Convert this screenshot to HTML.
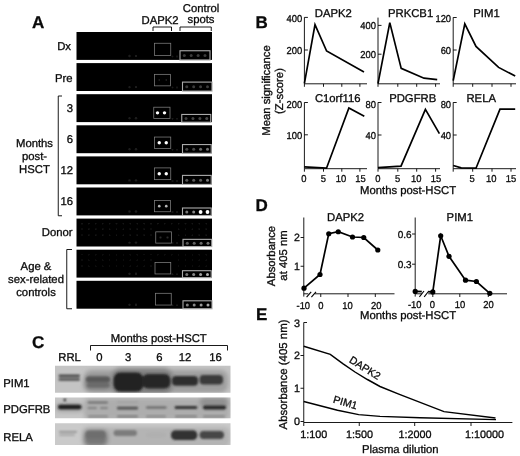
<!DOCTYPE html>
<html><head><meta charset="utf-8"><title>Figure</title>
<style>
html,body{margin:0;padding:0;background:#fff;}
body{width:520px;height:456px;overflow:hidden;}
svg{display:block;font-family:"Liberation Sans",Arial,sans-serif;fill:#0a0a0a;}
text{stroke:#0a0a0a;stroke-width:0.3px;text-rendering:geometricPrecision;}
</style></head><body>
<svg width="520" height="456" viewBox="0 0 520 456">
<defs>
<filter id="b1" x="-50%" y="-50%" width="200%" height="200%"><feGaussianBlur stdDeviation="0.5"/></filter>
<filter id="b2" x="-50%" y="-50%" width="200%" height="200%"><feGaussianBlur stdDeviation="1.2"/></filter>
<filter id="b3" x="-50%" y="-50%" width="200%" height="200%"><feGaussianBlur stdDeviation="2"/></filter>
<filter id="b15" x="-50%" y="-50%" width="200%" height="200%"><feGaussianBlur stdDeviation="0.8"/></filter>
<filter id="b0" x="-50%" y="-50%" width="200%" height="200%"><feGaussianBlur stdDeviation="0.35"/></filter>
<clipPath id="c1"><rect x="55" y="365.75" width="175.5" height="27"/></clipPath>
<clipPath id="c2"><rect x="55" y="397.5" width="175.5" height="20.75"/></clipPath>
<clipPath id="c3"><rect x="55" y="423.25" width="175.5" height="21.75"/></clipPath>
</defs>
<rect width="520" height="456" fill="#fff"/>

<g id="panelA">
<text x="32" y="27.5" text-anchor="start" font-size="17" font-weight="bold" >A</text>
<text x="141.5" y="23.75" text-anchor="start" font-size="11.3" font-weight="normal" >DAPK2</text>
<text x="201" y="12" text-anchor="middle" font-size="11.3" font-weight="normal" >Control</text>
<text x="201" y="22.5" text-anchor="middle" font-size="11.3" font-weight="normal" >spots</text>
<polyline points="153.00,31.00 153.00,27.00 171.50,27.00 171.50,31.00" fill="none" stroke="#000" stroke-width="0.9" stroke-linejoin="miter" />
<polyline points="180.00,31.00 180.00,27.00 211.25,27.00 211.25,31.00" fill="none" stroke="#000" stroke-width="0.9" stroke-linejoin="miter" />
<rect x="76.5" y="32.0" width="135.5" height="27.9" fill="#000"/>
<g filter="url(#b1)">
<circle cx="129.5" cy="56.0" r="1.2" fill="#1d1d1d"/>
<circle cx="136" cy="56.0" r="1.2" fill="#1d1d1d"/>
<circle cx="172.5" cy="56.5" r="1.0" fill="#1a1a1a"/>
<circle cx="177" cy="56.5" r="1.0" fill="#1a1a1a"/>
<rect x="154.5" y="43.25" width="16.25" height="12.25" fill="none" stroke="#808080" stroke-width="0.75"/>
<rect x="180" y="50.75" width="30" height="9.249999999999998" fill="none" stroke="#aaaaaa" stroke-width="1.1"/>
<circle cx="184.30" cy="55.62" r="1.5" fill="#3a3a3a"/>
<circle cx="191.20" cy="55.62" r="1.5" fill="#3a3a3a"/>
<circle cx="198.10" cy="55.62" r="1.5" fill="#3a3a3a"/>
<circle cx="205.00" cy="55.62" r="1.5" fill="#3a3a3a"/>
</g>
<rect x="76.5" y="63.1" width="135.5" height="27.9" fill="#000"/>
<g filter="url(#b1)">
<circle cx="129.5" cy="87.1" r="1.2" fill="#1d1d1d"/>
<circle cx="136" cy="87.1" r="1.2" fill="#1d1d1d"/>
<circle cx="172.5" cy="87.6" r="1.0" fill="#1a1a1a"/>
<circle cx="177" cy="87.6" r="1.0" fill="#1a1a1a"/>
<rect x="154.5" y="74.35" width="16.0" height="11.5" fill="none" stroke="#808080" stroke-width="0.75"/>
<rect x="182.5" y="82.1" width="29.5" height="8.999999999999998" fill="none" stroke="#aaaaaa" stroke-width="1.1"/>
<circle cx="159.25" cy="80.1" r="1.0" fill="#1c1c1c"/>
<circle cx="166.25" cy="80.1" r="1.0" fill="#1c1c1c"/>
<circle cx="186.80" cy="86.85" r="1.5" fill="#3a3a3a"/>
<circle cx="193.70" cy="86.85" r="1.5" fill="#3a3a3a"/>
<circle cx="200.60" cy="86.85" r="1.5" fill="#3a3a3a"/>
<circle cx="207.50" cy="86.85" r="1.5" fill="#3a3a3a"/>
</g>
<rect x="76.5" y="94.2" width="135.5" height="27.9" fill="#000"/>
<g filter="url(#b1)">
<circle cx="129.5" cy="118.2" r="1.2" fill="#1d1d1d"/>
<circle cx="136" cy="118.2" r="1.2" fill="#1d1d1d"/>
<circle cx="172.5" cy="118.7" r="1.0" fill="#1a1a1a"/>
<circle cx="177" cy="118.7" r="1.0" fill="#1a1a1a"/>
<rect x="153.75" y="107.2" width="16.25" height="11.25" fill="none" stroke="#808080" stroke-width="0.75"/>
<rect x="181.75" y="114.45" width="29.0" height="7.749999999999998" fill="none" stroke="#aaaaaa" stroke-width="1.1"/>
<circle cx="157.5" cy="112.825" r="1.7" fill="#fff"/>
<circle cx="164.5" cy="112.825" r="1.7" fill="#fff"/>
<circle cx="186.05" cy="118.58" r="1.5" fill="#3c3c3c"/>
<circle cx="192.95" cy="118.58" r="1.5" fill="#444"/>
<circle cx="199.85" cy="118.58" r="1.5" fill="#444"/>
<circle cx="206.75" cy="118.58" r="1.5" fill="#4a4a4a"/>
</g>
<rect x="76.5" y="125.30000000000001" width="135.5" height="27.9" fill="#000"/>
<g filter="url(#b1)">
<circle cx="129.5" cy="149.3" r="1.2" fill="#1d1d1d"/>
<circle cx="136" cy="149.3" r="1.2" fill="#1d1d1d"/>
<circle cx="172.5" cy="149.8" r="1.0" fill="#1a1a1a"/>
<circle cx="177" cy="149.8" r="1.0" fill="#1a1a1a"/>
<rect x="154.5" y="137.05" width="16.25" height="11.5" fill="none" stroke="#808080" stroke-width="0.75"/>
<rect x="182.5" y="144.55" width="28.75" height="8.749999999999998" fill="none" stroke="#aaaaaa" stroke-width="1.1"/>
<circle cx="159.25" cy="142.8" r="1.7" fill="#fff"/>
<circle cx="166.25" cy="142.8" r="1.7" fill="#fff"/>
<circle cx="186.80" cy="149.18" r="1.5" fill="#444"/>
<circle cx="193.70" cy="149.18" r="1.5" fill="#4a4a4a"/>
<circle cx="200.60" cy="149.18" r="1.5" fill="#6a6a6a"/>
<circle cx="207.50" cy="149.18" r="1.5" fill="#707070"/>
</g>
<rect x="76.5" y="156.4" width="135.5" height="27.9" fill="#000"/>
<g filter="url(#b1)">
<circle cx="129.5" cy="180.4" r="1.2" fill="#1d1d1d"/>
<circle cx="136" cy="180.4" r="1.2" fill="#1d1d1d"/>
<circle cx="172.5" cy="180.9" r="1.0" fill="#1a1a1a"/>
<circle cx="177" cy="180.9" r="1.0" fill="#1a1a1a"/>
<rect x="154.5" y="167.9" width="16.25" height="11.75" fill="none" stroke="#808080" stroke-width="0.75"/>
<rect x="182.5" y="175.4" width="28.75" height="8.999999999999998" fill="none" stroke="#aaaaaa" stroke-width="1.1"/>
<circle cx="159.25" cy="173.775" r="1.7" fill="#fff"/>
<circle cx="166.25" cy="173.775" r="1.7" fill="#fff"/>
<circle cx="186.80" cy="180.15" r="1.5" fill="#555"/>
<circle cx="193.70" cy="180.15" r="1.5" fill="#5a5a5a"/>
<circle cx="200.60" cy="180.15" r="1.5" fill="#5a5a5a"/>
<circle cx="207.50" cy="180.15" r="1.5" fill="#777"/>
</g>
<rect x="76.5" y="187.5" width="135.5" height="27.9" fill="#000"/>
<g filter="url(#b1)">
<circle cx="129.5" cy="211.5" r="1.2" fill="#1d1d1d"/>
<circle cx="136" cy="211.5" r="1.2" fill="#1d1d1d"/>
<circle cx="172.5" cy="212.0" r="1.0" fill="#1a1a1a"/>
<circle cx="177" cy="212.0" r="1.0" fill="#1a1a1a"/>
<rect x="154.5" y="200.5" width="16.0" height="11.25" fill="none" stroke="#808080" stroke-width="0.75"/>
<rect x="182.5" y="208.0" width="28.75" height="7.499999999999998" fill="none" stroke="#aaaaaa" stroke-width="1.1"/>
<circle cx="159.25" cy="206.125" r="1.3" fill="#b8b8b8"/>
<circle cx="166.25" cy="206.125" r="1.3" fill="#b8b8b8"/>
<circle cx="186.80" cy="212.00" r="1.5" fill="#777"/>
<circle cx="193.70" cy="212.00" r="1.5" fill="#888"/>
<circle cx="200.60" cy="212.00" r="1.9" fill="#fff"/>
<circle cx="207.50" cy="212.00" r="1.9" fill="#fff"/>
</g>
<rect x="76.5" y="218.60000000000002" width="135.5" height="27.9" fill="#000"/>
<g filter="url(#b1)">
<circle cx="82.0" cy="223.6" r="0.9" fill="#171717"/>
<circle cx="88.9" cy="223.6" r="0.9" fill="#171717"/>
<circle cx="95.8" cy="223.6" r="0.9" fill="#171717"/>
<circle cx="102.7" cy="223.6" r="0.9" fill="#171717"/>
<circle cx="109.6" cy="223.6" r="0.9" fill="#171717"/>
<circle cx="116.5" cy="223.6" r="0.9" fill="#171717"/>
<circle cx="123.4" cy="223.6" r="0.9" fill="#171717"/>
<circle cx="130.3" cy="223.6" r="0.9" fill="#171717"/>
<circle cx="137.2" cy="223.6" r="0.9" fill="#171717"/>
<circle cx="144.1" cy="223.6" r="0.9" fill="#171717"/>
<circle cx="151.0" cy="223.6" r="0.9" fill="#171717"/>
<circle cx="157.9" cy="223.6" r="0.9" fill="#171717"/>
<circle cx="164.8" cy="223.6" r="0.9" fill="#171717"/>
<circle cx="171.7" cy="223.6" r="0.9" fill="#171717"/>
<circle cx="178.6" cy="223.6" r="0.9" fill="#171717"/>
<circle cx="185.5" cy="223.6" r="0.9" fill="#171717"/>
<circle cx="192.4" cy="223.6" r="0.9" fill="#171717"/>
<circle cx="199.3" cy="223.6" r="0.9" fill="#171717"/>
<circle cx="206.2" cy="223.6" r="0.9" fill="#171717"/>
<circle cx="82.0" cy="229.1" r="0.9" fill="#171717"/>
<circle cx="88.9" cy="229.1" r="0.9" fill="#171717"/>
<circle cx="95.8" cy="229.1" r="0.9" fill="#171717"/>
<circle cx="102.7" cy="229.1" r="0.9" fill="#171717"/>
<circle cx="109.6" cy="229.1" r="0.9" fill="#171717"/>
<circle cx="116.5" cy="229.1" r="0.9" fill="#171717"/>
<circle cx="123.4" cy="229.1" r="0.9" fill="#171717"/>
<circle cx="130.3" cy="229.1" r="0.9" fill="#171717"/>
<circle cx="137.2" cy="229.1" r="0.9" fill="#171717"/>
<circle cx="144.1" cy="229.1" r="0.9" fill="#171717"/>
<circle cx="151.0" cy="229.1" r="0.9" fill="#171717"/>
<circle cx="178.6" cy="229.1" r="0.9" fill="#171717"/>
<circle cx="185.5" cy="229.1" r="0.9" fill="#171717"/>
<circle cx="192.4" cy="229.1" r="0.9" fill="#171717"/>
<circle cx="199.3" cy="229.1" r="0.9" fill="#171717"/>
<circle cx="206.2" cy="229.1" r="0.9" fill="#171717"/>
<circle cx="82.0" cy="235.1" r="0.9" fill="#171717"/>
<circle cx="88.9" cy="235.1" r="0.9" fill="#171717"/>
<circle cx="95.8" cy="235.1" r="0.9" fill="#171717"/>
<circle cx="102.7" cy="235.1" r="0.9" fill="#171717"/>
<circle cx="109.6" cy="235.1" r="0.9" fill="#171717"/>
<circle cx="116.5" cy="235.1" r="0.9" fill="#171717"/>
<circle cx="123.4" cy="235.1" r="0.9" fill="#171717"/>
<circle cx="130.3" cy="235.1" r="0.9" fill="#171717"/>
<circle cx="137.2" cy="235.1" r="0.9" fill="#171717"/>
<circle cx="144.1" cy="235.1" r="0.9" fill="#171717"/>
<circle cx="151.0" cy="235.1" r="0.9" fill="#171717"/>
<circle cx="178.6" cy="235.1" r="0.9" fill="#171717"/>
<circle cx="185.5" cy="235.1" r="0.9" fill="#171717"/>
<circle cx="192.4" cy="235.1" r="0.9" fill="#171717"/>
<circle cx="199.3" cy="235.1" r="0.9" fill="#171717"/>
<circle cx="206.2" cy="235.1" r="0.9" fill="#171717"/>
<circle cx="129.5" cy="242.60000000000002" r="1.2" fill="#1d1d1d"/>
<circle cx="136" cy="242.60000000000002" r="1.2" fill="#1d1d1d"/>
<circle cx="172.5" cy="243.10000000000002" r="1.0" fill="#1a1a1a"/>
<circle cx="177" cy="243.10000000000002" r="1.0" fill="#1a1a1a"/>
<rect x="155.75" y="231.85000000000002" width="15.75" height="11.25" fill="none" stroke="#808080" stroke-width="0.75"/>
<rect x="183" y="239.35000000000002" width="28.75" height="7.249999999999998" fill="none" stroke="#aaaaaa" stroke-width="1.1"/>
<circle cx="160.5" cy="237.47500000000002" r="1.1" fill="#2a2a2a"/>
<circle cx="167.5" cy="237.47500000000002" r="1.1" fill="#2a2a2a"/>
<circle cx="187.30" cy="243.23" r="1.5" fill="#555"/>
<circle cx="194.20" cy="243.23" r="1.5" fill="#606060"/>
<circle cx="201.10" cy="243.23" r="1.5" fill="#6a6a6a"/>
<circle cx="208.00" cy="243.23" r="1.5" fill="#707070"/>
</g>
<rect x="76.5" y="249.70000000000002" width="135.5" height="27.9" fill="#000"/>
<g filter="url(#b1)">
<circle cx="82.0" cy="254.7" r="0.9" fill="#101010"/>
<circle cx="88.9" cy="254.7" r="0.9" fill="#101010"/>
<circle cx="95.8" cy="254.7" r="0.9" fill="#101010"/>
<circle cx="102.7" cy="254.7" r="0.9" fill="#101010"/>
<circle cx="109.6" cy="254.7" r="0.9" fill="#101010"/>
<circle cx="116.5" cy="254.7" r="0.9" fill="#101010"/>
<circle cx="123.4" cy="254.7" r="0.9" fill="#101010"/>
<circle cx="130.3" cy="254.7" r="0.9" fill="#101010"/>
<circle cx="137.2" cy="254.7" r="0.9" fill="#101010"/>
<circle cx="144.1" cy="254.7" r="0.9" fill="#101010"/>
<circle cx="151.0" cy="254.7" r="0.9" fill="#101010"/>
<circle cx="157.9" cy="254.7" r="0.9" fill="#101010"/>
<circle cx="164.8" cy="254.7" r="0.9" fill="#101010"/>
<circle cx="171.7" cy="254.7" r="0.9" fill="#101010"/>
<circle cx="178.6" cy="254.7" r="0.9" fill="#101010"/>
<circle cx="185.5" cy="254.7" r="0.9" fill="#101010"/>
<circle cx="192.4" cy="254.7" r="0.9" fill="#101010"/>
<circle cx="199.3" cy="254.7" r="0.9" fill="#101010"/>
<circle cx="206.2" cy="254.7" r="0.9" fill="#101010"/>
<circle cx="82.0" cy="260.2" r="0.9" fill="#101010"/>
<circle cx="88.9" cy="260.2" r="0.9" fill="#101010"/>
<circle cx="95.8" cy="260.2" r="0.9" fill="#101010"/>
<circle cx="102.7" cy="260.2" r="0.9" fill="#101010"/>
<circle cx="109.6" cy="260.2" r="0.9" fill="#101010"/>
<circle cx="116.5" cy="260.2" r="0.9" fill="#101010"/>
<circle cx="123.4" cy="260.2" r="0.9" fill="#101010"/>
<circle cx="130.3" cy="260.2" r="0.9" fill="#101010"/>
<circle cx="137.2" cy="260.2" r="0.9" fill="#101010"/>
<circle cx="144.1" cy="260.2" r="0.9" fill="#101010"/>
<circle cx="151.0" cy="260.2" r="0.9" fill="#101010"/>
<circle cx="178.6" cy="260.2" r="0.9" fill="#101010"/>
<circle cx="185.5" cy="260.2" r="0.9" fill="#101010"/>
<circle cx="192.4" cy="260.2" r="0.9" fill="#101010"/>
<circle cx="199.3" cy="260.2" r="0.9" fill="#101010"/>
<circle cx="206.2" cy="260.2" r="0.9" fill="#101010"/>
<circle cx="82.0" cy="266.2" r="0.9" fill="#101010"/>
<circle cx="88.9" cy="266.2" r="0.9" fill="#101010"/>
<circle cx="95.8" cy="266.2" r="0.9" fill="#101010"/>
<circle cx="102.7" cy="266.2" r="0.9" fill="#101010"/>
<circle cx="109.6" cy="266.2" r="0.9" fill="#101010"/>
<circle cx="116.5" cy="266.2" r="0.9" fill="#101010"/>
<circle cx="123.4" cy="266.2" r="0.9" fill="#101010"/>
<circle cx="130.3" cy="266.2" r="0.9" fill="#101010"/>
<circle cx="137.2" cy="266.2" r="0.9" fill="#101010"/>
<circle cx="144.1" cy="266.2" r="0.9" fill="#101010"/>
<circle cx="151.0" cy="266.2" r="0.9" fill="#101010"/>
<circle cx="178.6" cy="266.2" r="0.9" fill="#101010"/>
<circle cx="185.5" cy="266.2" r="0.9" fill="#101010"/>
<circle cx="192.4" cy="266.2" r="0.9" fill="#101010"/>
<circle cx="199.3" cy="266.2" r="0.9" fill="#101010"/>
<circle cx="206.2" cy="266.2" r="0.9" fill="#101010"/>
<circle cx="129.5" cy="273.70000000000005" r="1.2" fill="#1d1d1d"/>
<circle cx="136" cy="273.70000000000005" r="1.2" fill="#1d1d1d"/>
<circle cx="172.5" cy="274.20000000000005" r="1.0" fill="#1a1a1a"/>
<circle cx="177" cy="274.20000000000005" r="1.0" fill="#1a1a1a"/>
<rect x="155" y="262.45000000000005" width="15.75" height="11.5" fill="none" stroke="#808080" stroke-width="0.75"/>
<rect x="182.5" y="270.70000000000005" width="28.75" height="6.999999999999998" fill="none" stroke="#aaaaaa" stroke-width="1.1"/>
<circle cx="186.80" cy="274.45" r="1.5" fill="#777"/>
<circle cx="193.70" cy="274.45" r="1.5" fill="#888"/>
<circle cx="200.60" cy="274.45" r="1.5" fill="#a0a0a0"/>
<circle cx="207.50" cy="274.45" r="1.5" fill="#b0b0b0"/>
</g>
<rect x="76.5" y="280.8" width="135.5" height="27.9" fill="#000"/>
<g filter="url(#b1)">
<circle cx="129.5" cy="304.8" r="1.2" fill="#1d1d1d"/>
<circle cx="136" cy="304.8" r="1.2" fill="#1d1d1d"/>
<circle cx="172.5" cy="305.3" r="1.0" fill="#1a1a1a"/>
<circle cx="177" cy="305.3" r="1.0" fill="#1a1a1a"/>
<rect x="155.5" y="293.3" width="15.75" height="11.75" fill="none" stroke="#808080" stroke-width="0.75"/>
<rect x="183" y="300.8" width="29" height="7.999999999999998" fill="none" stroke="#aaaaaa" stroke-width="1.1"/>
<circle cx="187.30" cy="305.05" r="1.5" fill="#808080"/>
<circle cx="194.20" cy="305.05" r="1.5" fill="#8a8a8a"/>
<circle cx="201.10" cy="305.05" r="1.5" fill="#9a9a9a"/>
<circle cx="208.00" cy="305.05" r="1.5" fill="#a8a8a8"/>
</g>
<text x="71" y="50" text-anchor="end" font-size="11.3" font-weight="normal" >Dx</text>
<text x="72.5" y="81.5" text-anchor="end" font-size="11.3" font-weight="normal" >Pre</text>
<text x="73" y="112" text-anchor="end" font-size="11.3" font-weight="normal" >3</text>
<text x="73" y="143" text-anchor="end" font-size="11.3" font-weight="normal" >6</text>
<text x="73" y="173.5" text-anchor="end" font-size="11.3" font-weight="normal" >12</text>
<text x="73" y="205" text-anchor="end" font-size="11.3" font-weight="normal" >16</text>
<text x="34.5" y="147" text-anchor="middle" font-size="11.3" font-weight="normal" >Months</text>
<text x="34.5" y="159.75" text-anchor="middle" font-size="11.3" font-weight="normal" >post-</text>
<text x="34.5" y="172.5" text-anchor="middle" font-size="11.3" font-weight="normal" >HSCT</text>
<polyline points="62.00,96.00 58.25,96.00 58.25,215.75 62.00,215.75" fill="none" stroke="#000" stroke-width="0.9" stroke-linejoin="miter" />
<text x="72.5" y="236" text-anchor="end" font-size="11.3" font-weight="normal" >Donor</text>
<text x="36" y="270" text-anchor="middle" font-size="11.3" font-weight="normal" >Age &amp;</text>
<text x="36" y="283" text-anchor="middle" font-size="11.3" font-weight="normal" >sex-related</text>
<text x="36" y="295.75" text-anchor="middle" font-size="11.3" font-weight="normal" >controls</text>
<polyline points="72.00,249.50 66.75,249.50 66.75,308.75 72.00,308.75" fill="none" stroke="#000" stroke-width="0.9" stroke-linejoin="miter" />
</g>
<g id="panelC">
<text x="32" y="347.5" text-anchor="start" font-size="17" font-weight="bold" >C</text>
<text x="158.75" y="342" text-anchor="middle" font-size="11.3" font-weight="normal" >Months post-HSCT</text>
<polyline points="90.50,350.50 90.50,345.50 227.50,345.50 227.50,350.50" fill="none" stroke="#000" stroke-width="0.9" stroke-linejoin="miter" />
<text x="69.6" y="361.25" text-anchor="middle" font-size="11.3" font-weight="normal" >RRL</text>
<text x="99.5" y="361.25" text-anchor="middle" font-size="11.3" font-weight="normal" >0</text>
<text x="128.25" y="361.25" text-anchor="middle" font-size="11.3" font-weight="normal" >3</text>
<text x="159.5" y="361.25" text-anchor="middle" font-size="11.3" font-weight="normal" >6</text>
<text x="185" y="361.25" text-anchor="middle" font-size="11.3" font-weight="normal" >12</text>
<text x="215.5" y="361.25" text-anchor="middle" font-size="11.3" font-weight="normal" >16</text>
<text x="3.25" y="386.5" text-anchor="start" font-size="11.3" font-weight="normal" >PIM1</text>
<text x="3.25" y="412.5" text-anchor="start" font-size="11.3" font-weight="normal" >PDGFRB</text>
<text x="3.25" y="441.25" text-anchor="start" font-size="11.3" font-weight="normal" >RELA</text>
<g clip-path="url(#c1)"><rect x="54" y="365" width="177" height="28" fill="#c4c4c4"/>
<g filter="url(#b3)">
<rect x="84.00" y="370.00" width="144.00" height="23.00" rx="8.00" fill="#8e8e8e" opacity="0.7"/>
<rect x="112.00" y="368.00" width="60.00" height="27.00" rx="8.00" fill="#777" opacity="0.8"/>
<rect x="84.00" y="376.00" width="27.00" height="14.00" rx="5.00" fill="#777" opacity="0.7"/>
</g><g filter="url(#b2)">
<rect x="86.00" y="376.50" width="24.00" height="6.00" rx="3.00" fill="#585858" opacity="1"/>
<rect x="87.00" y="383.00" width="22.50" height="4.50" rx="2.50" fill="#6a6a6a" opacity="1"/>
<rect x="113.50" y="372.50" width="30.00" height="19.00" rx="7.00" fill="#242424" opacity="1"/>
<rect x="142.00" y="374.00" width="28.50" height="14.60" rx="6.00" fill="#262626" opacity="1"/>
<rect x="172.00" y="376.00" width="26.00" height="9.70" rx="4.00" fill="#2e2e2e" opacity="1"/>
<rect x="199.50" y="375.00" width="23.50" height="9.50" rx="4.00" fill="#3a3a3a" opacity="1"/>
</g><g filter="url(#b15)">
<rect x="58.50" y="374.60" width="21.50" height="2.70" rx="1.20" fill="#4a4a4a" opacity="1"/>
<rect x="58.50" y="378.20" width="21.50" height="2.50" rx="1.20" fill="#505050" opacity="1"/>
</g></g>
<g clip-path="url(#c2)"><rect x="54" y="397" width="177" height="22" fill="#c6c6c6"/>
<g filter="url(#b3)">
<rect x="84.00" y="398.00" width="146.00" height="22.00" rx="5.00" fill="#a8a8a8" opacity="0.8"/>
<rect x="200.00" y="397.00" width="28.00" height="10.00" rx="4.00" fill="#8a8a8a" opacity="0.8"/>
<rect x="56.00" y="403.00" width="27.00" height="9.00" rx="4.00" fill="#999" opacity="0.7"/>
</g><g filter="url(#b15)">
<rect x="58.00" y="404.80" width="23.50" height="4.50" rx="2.20" fill="#1c1c1c" opacity="1"/>
<circle cx="64.8" cy="400" r="1.4" fill="#333"/>
<rect x="87.50" y="401.60" width="20.50" height="1.80" rx="0.80" fill="#6c6c6c" opacity="1"/>
<rect x="87.50" y="407.10" width="9.50" height="1.80" rx="0.80" fill="#808080" opacity="1"/>
<rect x="100.00" y="407.10" width="8.00" height="1.80" rx="0.80" fill="#808080" opacity="1"/>
<rect x="117.00" y="406.80" width="21.00" height="2.60" rx="1.20" fill="#505050" opacity="1"/>
<rect x="117.00" y="401.40" width="21.00" height="1.60" rx="0.60" fill="#a0a0a0" opacity="1"/>
<rect x="146.00" y="406.40" width="20.70" height="2.20" rx="1.00" fill="#606060" opacity="1"/>
<rect x="174.60" y="405.90" width="22.70" height="3.20" rx="1.50" fill="#303030" opacity="1"/>
<rect x="203.00" y="405.50" width="23.00" height="4.00" rx="1.80" fill="#2c2c2c" opacity="1"/>
</g><g filter="url(#b2)">
<rect x="88.00" y="415.20" width="20.00" height="2.20" rx="1.00" fill="#8c8c8c" opacity="1"/>
<rect x="117.00" y="415.20" width="21.00" height="2.20" rx="1.00" fill="#808080" opacity="1"/>
<rect x="146.00" y="415.20" width="20.00" height="2.20" rx="1.00" fill="#8c8c8c" opacity="1"/>
<rect x="175.00" y="415.20" width="22.00" height="2.20" rx="1.00" fill="#858585" opacity="1"/>
<rect x="203.00" y="415.20" width="22.00" height="2.20" rx="1.00" fill="#8a8a8a" opacity="1"/>
</g></g>
<g clip-path="url(#c3)"><rect x="54" y="422.5" width="177" height="23" fill="#cacaca"/>
<g filter="url(#b3)">
<rect x="82.00" y="427.00" width="148.00" height="20.00" rx="6.00" fill="#aaa" opacity="0.7"/>
<rect x="84.00" y="430.00" width="23.50" height="16.00" rx="5.00" fill="#707070" opacity="0.9"/>
</g><g filter="url(#b2)">
<rect x="86.00" y="431.00" width="19.00" height="7.50" rx="3.00" fill="#6e6e6e" opacity="1"/>
<rect x="113.50" y="430.00" width="23.50" height="6.00" rx="3.00" fill="#7c7c7c" opacity="1"/>
<rect x="146.00" y="432.00" width="20.00" height="6.00" rx="3.00" fill="#b0b0b0" opacity="1"/>
<rect x="171.00" y="430.20" width="26.30" height="9.80" rx="4.50" fill="#323232" opacity="1"/>
<rect x="199.50" y="431.00" width="24.50" height="8.00" rx="4.00" fill="#464646" opacity="1"/>
</g><g filter="url(#b15)">
<rect x="59.00" y="430.90" width="18.00" height="1.80" rx="0.80" fill="#909090" opacity="1"/>
<rect x="59.00" y="434.20" width="16.00" height="1.60" rx="0.80" fill="#a0a0a0" opacity="1"/>
</g></g>
</g>
<g id="panelB">
<text x="255.5" y="27.5" text-anchor="start" font-size="17" font-weight="bold" >B</text>
<text transform="translate(269.7,90.5) rotate(-90)" text-anchor="middle" font-size="11.3">Mean significance</text>
<text transform="translate(283.2,91) rotate(-90)" text-anchor="middle" font-size="11.3">(Z-score)</text>
<polyline points="304.40,17.30 304.40,83.80 367.00,83.80" fill="none" stroke="#000" stroke-width="0.9" stroke-linejoin="miter" />
<line x1="304.4" y1="83.8" x2="304.4" y2="86.8" stroke="#000" stroke-width="0.9" />
<line x1="323.5" y1="83.8" x2="323.5" y2="86.8" stroke="#000" stroke-width="0.9" />
<line x1="341.8" y1="83.8" x2="341.8" y2="86.8" stroke="#000" stroke-width="0.9" />
<line x1="359.9" y1="83.8" x2="359.9" y2="86.8" stroke="#000" stroke-width="0.9" />
<line x1="304.4" y1="17.4" x2="307.9" y2="17.4" stroke="#000" stroke-width="0.9" />
<line x1="304.4" y1="50" x2="307.9" y2="50" stroke="#000" stroke-width="0.9" />
<text x="333.3" y="16.7" text-anchor="middle" font-size="11.3" font-weight="normal" >DAPK2</text>
<text transform="translate(302.29999999999995,21.6) scale(0.94,1)" text-anchor="end" font-size="10.0" font-weight="normal" >400</text>
<text transform="translate(302.29999999999995,54.0) scale(0.94,1)" text-anchor="end" font-size="10.0" font-weight="normal" >200</text>
<polyline points="304.40,83.30 315.00,24.60 326.60,51.00 364.00,71.90" fill="none" stroke="#000" stroke-width="1.7" stroke-linejoin="miter" />
<polyline points="378.00,17.60 378.00,83.80 440.00,83.80" fill="none" stroke="#000" stroke-width="0.9" stroke-linejoin="miter" />
<line x1="378.0" y1="83.8" x2="378.0" y2="86.8" stroke="#000" stroke-width="0.9" />
<line x1="397.8" y1="83.8" x2="397.8" y2="86.8" stroke="#000" stroke-width="0.9" />
<line x1="416.7" y1="83.8" x2="416.7" y2="86.8" stroke="#000" stroke-width="0.9" />
<line x1="435.6" y1="83.8" x2="435.6" y2="86.8" stroke="#000" stroke-width="0.9" />
<line x1="378.0" y1="25.4" x2="381.5" y2="25.4" stroke="#000" stroke-width="0.9" />
<line x1="378.0" y1="54.2" x2="381.5" y2="54.2" stroke="#000" stroke-width="0.9" />
<text x="410.6" y="16.6" text-anchor="middle" font-size="11.3" font-weight="normal" >PRKCB1</text>
<text transform="translate(375.9,29.2) scale(0.94,1)" text-anchor="end" font-size="10.0" font-weight="normal" >400</text>
<text transform="translate(375.9,58) scale(0.94,1)" text-anchor="end" font-size="10.0" font-weight="normal" >200</text>
<polyline points="378.00,83.60 389.80,22.60 401.20,68.40 424.00,78.20 437.20,79.60" fill="none" stroke="#000" stroke-width="1.7" stroke-linejoin="miter" />
<polyline points="453.20,17.40 453.20,83.80 516.00,83.80" fill="none" stroke="#000" stroke-width="0.9" stroke-linejoin="miter" />
<line x1="453.2" y1="83.8" x2="453.2" y2="86.8" stroke="#000" stroke-width="0.9" />
<line x1="472.7" y1="83.8" x2="472.7" y2="86.8" stroke="#000" stroke-width="0.9" />
<line x1="492" y1="83.8" x2="492" y2="86.8" stroke="#000" stroke-width="0.9" />
<line x1="511" y1="83.8" x2="511" y2="86.8" stroke="#000" stroke-width="0.9" />
<line x1="453.2" y1="17.5" x2="456.7" y2="17.5" stroke="#000" stroke-width="0.9" />
<line x1="453.2" y1="50" x2="456.7" y2="50" stroke="#000" stroke-width="0.9" />
<text x="486.5" y="16.6" text-anchor="middle" font-size="11.3" font-weight="normal" >PIM1</text>
<text transform="translate(451.09999999999997,21.7) scale(0.94,1)" text-anchor="end" font-size="10.0" font-weight="normal" >120</text>
<text transform="translate(451.09999999999997,54.0) scale(0.94,1)" text-anchor="end" font-size="10.0" font-weight="normal" >60</text>
<polyline points="453.20,80.60 464.80,23.80 476.00,46.40 498.60,67.40 515.20,76.10" fill="none" stroke="#000" stroke-width="1.7" stroke-linejoin="miter" />
<polyline points="304.40,102.40 304.40,168.70 367.00,168.70" fill="none" stroke="#000" stroke-width="0.9" stroke-linejoin="miter" />
<line x1="304.4" y1="168.7" x2="304.4" y2="171.7" stroke="#000" stroke-width="0.9" />
<line x1="323.5" y1="168.7" x2="323.5" y2="171.7" stroke="#000" stroke-width="0.9" />
<line x1="341.8" y1="168.7" x2="341.8" y2="171.7" stroke="#000" stroke-width="0.9" />
<line x1="359.9" y1="168.7" x2="359.9" y2="171.7" stroke="#000" stroke-width="0.9" />
<line x1="304.4" y1="102.5" x2="307.9" y2="102.5" stroke="#000" stroke-width="0.9" />
<line x1="304.4" y1="134.8" x2="307.9" y2="134.8" stroke="#000" stroke-width="0.9" />
<text x="337.7" y="102.3" text-anchor="middle" font-size="11.3" font-weight="normal" >C1orf116</text>
<text transform="translate(302.29999999999995,108) scale(0.94,1)" text-anchor="end" font-size="10.0" font-weight="normal" >200</text>
<text transform="translate(302.29999999999995,138.8) scale(0.94,1)" text-anchor="end" font-size="10.0" font-weight="normal" >100</text>
<polyline points="304.40,166.90 326.50,168.20 348.90,108.00 364.30,116.20" fill="none" stroke="#000" stroke-width="1.7" stroke-linejoin="miter" />
<polyline points="378.00,102.40 378.00,168.70 440.00,168.70" fill="none" stroke="#000" stroke-width="0.9" stroke-linejoin="miter" />
<line x1="378.0" y1="168.7" x2="378.0" y2="171.7" stroke="#000" stroke-width="0.9" />
<line x1="397.8" y1="168.7" x2="397.8" y2="171.7" stroke="#000" stroke-width="0.9" />
<line x1="416.7" y1="168.7" x2="416.7" y2="171.7" stroke="#000" stroke-width="0.9" />
<line x1="435.6" y1="168.7" x2="435.6" y2="171.7" stroke="#000" stroke-width="0.9" />
<line x1="378.0" y1="102.5" x2="381.5" y2="102.5" stroke="#000" stroke-width="0.9" />
<line x1="378.0" y1="135" x2="381.5" y2="135" stroke="#000" stroke-width="0.9" />
<text x="412.7" y="102.4" text-anchor="middle" font-size="11.3" font-weight="normal" >PDGFRB</text>
<text transform="translate(375.9,108) scale(0.94,1)" text-anchor="end" font-size="10.0" font-weight="normal" >80</text>
<text transform="translate(375.9,138.8) scale(0.94,1)" text-anchor="end" font-size="10.0" font-weight="normal" >40</text>
<polyline points="378.00,167.60 401.00,166.20 425.40,109.30 439.40,133.60" fill="none" stroke="#000" stroke-width="1.7" stroke-linejoin="miter" />
<polyline points="453.20,102.40 453.20,168.70 516.00,168.70" fill="none" stroke="#000" stroke-width="0.9" stroke-linejoin="miter" />
<line x1="453.2" y1="168.7" x2="453.2" y2="171.7" stroke="#000" stroke-width="0.9" />
<line x1="472.7" y1="168.7" x2="472.7" y2="171.7" stroke="#000" stroke-width="0.9" />
<line x1="492" y1="168.7" x2="492" y2="171.7" stroke="#000" stroke-width="0.9" />
<line x1="511" y1="168.7" x2="511" y2="171.7" stroke="#000" stroke-width="0.9" />
<line x1="453.2" y1="102.5" x2="456.7" y2="102.5" stroke="#000" stroke-width="0.9" />
<line x1="453.2" y1="135" x2="456.7" y2="135" stroke="#000" stroke-width="0.9" />
<text x="481.2" y="102.3" text-anchor="middle" font-size="11.3" font-weight="normal" >RELA</text>
<text transform="translate(451.09999999999997,108) scale(0.94,1)" text-anchor="end" font-size="10.0" font-weight="normal" >80</text>
<text transform="translate(451.09999999999997,138.8) scale(0.94,1)" text-anchor="end" font-size="10.0" font-weight="normal" >40</text>
<polyline points="453.20,165.50 461.20,167.80 476.00,168.20 500.00,109.20 515.20,109.20" fill="none" stroke="#000" stroke-width="1.7" stroke-linejoin="miter" />
<text transform="translate(303.8,181.6) scale(0.94,1)" text-anchor="middle" font-size="10.0" font-weight="normal" >0</text>
<text transform="translate(323.4,181.6) scale(0.94,1)" text-anchor="middle" font-size="10.0" font-weight="normal" >5</text>
<text transform="translate(341.0,181.6) scale(0.94,1)" text-anchor="middle" font-size="10.0" font-weight="normal" >10</text>
<text transform="translate(360.5,181.6) scale(0.94,1)" text-anchor="middle" font-size="10.0" font-weight="normal" >15</text>
<text transform="translate(377.8,181.6) scale(0.94,1)" text-anchor="middle" font-size="10.0" font-weight="normal" >0</text>
<text transform="translate(397.7,181.6) scale(0.94,1)" text-anchor="middle" font-size="10.0" font-weight="normal" >5</text>
<text transform="translate(416.3,181.6) scale(0.94,1)" text-anchor="middle" font-size="10.0" font-weight="normal" >10</text>
<text transform="translate(436,181.6) scale(0.94,1)" text-anchor="middle" font-size="10.0" font-weight="normal" >15</text>
<text transform="translate(472,181.6) scale(0.94,1)" text-anchor="middle" font-size="10.0" font-weight="normal" >5</text>
<text transform="translate(491.3,181.6) scale(0.94,1)" text-anchor="middle" font-size="10.0" font-weight="normal" >10</text>
<text transform="translate(511,181.6) scale(0.94,1)" text-anchor="middle" font-size="10.0" font-weight="normal" >15</text>
<text x="408.1" y="193.6" text-anchor="middle" font-size="11.3" font-weight="normal" >Months post-HSCT</text>
</g>
<g id="panelD">
<text x="255.5" y="211" text-anchor="start" font-size="17" font-weight="bold" >D</text>
<text transform="translate(275,256) rotate(-90)" text-anchor="middle" font-size="11.3">Absorbance</text>
<text transform="translate(287.2,255.5) rotate(-90)" text-anchor="middle" font-size="11.3">at 405 nm</text>
<polyline points="303.80,217.50 303.80,296.60" fill="none" stroke="#000" stroke-width="0.9" stroke-linejoin="miter" />
<line x1="303.8" y1="293.8" x2="394.5" y2="293.8" stroke="#000" stroke-width="0.9" />
<line x1="300.6" y1="237.5" x2="303.8" y2="237.5" stroke="#000" stroke-width="0.9" />
<line x1="300.6" y1="266.25" x2="303.8" y2="266.25" stroke="#000" stroke-width="0.9" />
<line x1="320.75" y1="293.8" x2="320.75" y2="297.0" stroke="#000" stroke-width="0.9" />
<line x1="348" y1="293.8" x2="348" y2="297.0" stroke="#000" stroke-width="0.9" />
<line x1="375.3" y1="293.8" x2="375.3" y2="297.0" stroke="#000" stroke-width="0.9" />
<text x="345.6" y="221" text-anchor="middle" font-size="11.3" font-weight="normal" >DAPK2</text>
<text x="299.8" y="241.4" text-anchor="end" font-size="10.6" font-weight="normal" >2</text>
<text x="299.8" y="270.1" text-anchor="end" font-size="10.6" font-weight="normal" >1</text>
<polyline points="304.00,288.20 320.00,274.50 328.75,233.75 338.25,231.75 352.50,237.00 363.75,237.50 377.80,250.00" fill="none" stroke="#000" stroke-width="1.7" stroke-linejoin="miter" />
<circle cx="304.0" cy="288.2" r="2.6" fill="#000"/>
<circle cx="320" cy="274.5" r="2.6" fill="#000"/>
<circle cx="328.75" cy="233.75" r="2.6" fill="#000"/>
<circle cx="338.25" cy="231.75" r="2.6" fill="#000"/>
<circle cx="352.5" cy="237" r="2.6" fill="#000"/>
<circle cx="363.75" cy="237.5" r="2.6" fill="#000"/>
<circle cx="377.8" cy="250" r="2.6" fill="#000"/>
<rect x="308.3" y="292.3" width="6.6" height="3" fill="#fff"/>
<line x1="306.6" y1="297.2" x2="311.2" y2="291.8" stroke="#000" stroke-width="1.1" />
<line x1="311.4" y1="297.2" x2="316" y2="291.8" stroke="#000" stroke-width="1.1" />
<text transform="translate(303.3,308.6) scale(0.94,1)" text-anchor="middle" font-size="10.0" font-weight="normal" >-10</text>
<text transform="translate(320.75,308.6) scale(0.94,1)" text-anchor="middle" font-size="10.0" font-weight="normal" >0</text>
<text transform="translate(347.5,308.6) scale(0.94,1)" text-anchor="middle" font-size="10.0" font-weight="normal" >10</text>
<text transform="translate(376.3,308.6) scale(0.94,1)" text-anchor="middle" font-size="10.0" font-weight="normal" >20</text>
<polyline points="415.20,217.50 415.20,296.60" fill="none" stroke="#000" stroke-width="0.9" stroke-linejoin="miter" />
<line x1="415.2" y1="293.8" x2="507" y2="293.8" stroke="#000" stroke-width="0.9" />
<line x1="412.0" y1="234" x2="415.2" y2="234" stroke="#000" stroke-width="0.9" />
<line x1="412.0" y1="264.2" x2="415.2" y2="264.2" stroke="#000" stroke-width="0.9" />
<line x1="432.8" y1="293.8" x2="432.8" y2="297.0" stroke="#000" stroke-width="0.9" />
<line x1="459.8" y1="293.8" x2="459.8" y2="297.0" stroke="#000" stroke-width="0.9" />
<line x1="488.3" y1="293.8" x2="488.3" y2="297.0" stroke="#000" stroke-width="0.9" />
<text x="459.8" y="221" text-anchor="middle" font-size="11.3" font-weight="normal" >PIM1</text>
<text x="411.7" y="237.8" text-anchor="end" font-size="10.0" font-weight="normal" >0.6</text>
<text x="411.7" y="268" text-anchor="end" font-size="10.0" font-weight="normal" >0.3</text>
<polyline points="415.20,291.40 432.80,291.90 440.70,235.80 449.00,256.30 465.50,280.20 476.40,281.50 489.80,293.30" fill="none" stroke="#000" stroke-width="1.7" stroke-linejoin="miter" />
<circle cx="415.2" cy="291.4" r="2.6" fill="#000"/>
<circle cx="432.8" cy="291.9" r="2.6" fill="#000"/>
<circle cx="440.7" cy="235.8" r="2.6" fill="#000"/>
<circle cx="449" cy="256.3" r="2.6" fill="#000"/>
<circle cx="465.5" cy="280.2" r="2.6" fill="#000"/>
<circle cx="476.4" cy="281.5" r="2.6" fill="#000"/>
<circle cx="489.8" cy="293.3" r="2.6" fill="#000"/>
<rect x="421.8" y="289" width="6.4" height="6.5" fill="#fff"/>
<line x1="419.4" y1="296.8" x2="424" y2="291.0" stroke="#000" stroke-width="1.1" />
<line x1="424.2" y1="296.8" x2="428.8" y2="291.0" stroke="#000" stroke-width="1.1" />
<text transform="translate(414.7,308.3) scale(0.94,1)" text-anchor="middle" font-size="10.0" font-weight="normal" >-10</text>
<text transform="translate(432.3,308.3) scale(0.94,1)" text-anchor="middle" font-size="10.0" font-weight="normal" >0</text>
<text transform="translate(460,308.3) scale(0.94,1)" text-anchor="middle" font-size="10.0" font-weight="normal" >10</text>
<text transform="translate(488.6,308.3) scale(0.94,1)" text-anchor="middle" font-size="10.0" font-weight="normal" >20</text>
<text x="408.1" y="319.0" text-anchor="middle" font-size="11.3" font-weight="normal" >Months post-HSCT</text>
</g>
<g id="panelE">
<text x="256" y="319.5" text-anchor="start" font-size="17" font-weight="bold" >E</text>
<text transform="translate(287.2,374.5) rotate(-90)" text-anchor="middle" font-size="11.450000000000001">Absorbance (405 nm)</text>
<polyline points="303.75,322.50 303.75,422.50 512.40,422.50" fill="none" stroke="#000" stroke-width="0.9" stroke-linejoin="miter" />
<line x1="303.75" y1="322.5" x2="307" y2="322.5" stroke="#000" stroke-width="0.9" />
<line x1="300.5" y1="355.5" x2="303.75" y2="355.5" stroke="#000" stroke-width="0.9" />
<line x1="300.5" y1="388.25" x2="303.75" y2="388.25" stroke="#000" stroke-width="0.9" />
<line x1="300.5" y1="421.5" x2="303.75" y2="421.5" stroke="#000" stroke-width="0.9" />
<line x1="303.75" y1="422.5" x2="303.75" y2="426" stroke="#000" stroke-width="0.9" />
<line x1="359.25" y1="422.5" x2="359.25" y2="426" stroke="#000" stroke-width="0.9" />
<line x1="414.7" y1="422.5" x2="414.7" y2="426" stroke="#000" stroke-width="0.9" />
<line x1="471" y1="422.5" x2="471" y2="426" stroke="#000" stroke-width="0.9" />
<text x="299.9" y="326.5" text-anchor="end" font-size="10.8" font-weight="normal" >3</text>
<text x="299.9" y="358.9" text-anchor="end" font-size="10.8" font-weight="normal" >2</text>
<text x="299.9" y="392.2" text-anchor="end" font-size="10.8" font-weight="normal" >1</text>
<text x="299.9" y="425.1" text-anchor="end" font-size="10.8" font-weight="normal" >0</text>
<polyline points="303.75,346.25 330.30,354.30 342.80,363.60 355.00,372.00 367.40,379.50 380.00,386.50 398.80,394.20 444.00,411.60 495.50,418.00" fill="none" stroke="#000" stroke-width="1.45" stroke-linejoin="miter" />
<polyline points="303.75,401.50 337.50,410.20 358.70,414.60 380.00,416.40 420.00,417.80 496.00,419.60" fill="none" stroke="#000" stroke-width="1.45" stroke-linejoin="miter" />
<text transform="translate(348.4,361.8) rotate(32)" font-size="10.5">DAPK2</text>
<text transform="translate(332.6,402.6) rotate(16)" font-size="10.5">PIM1</text>
<text x="313.8" y="438.2" text-anchor="middle" font-size="10.8" font-weight="normal" >1:100</text>
<text x="359.6" y="438.2" text-anchor="middle" font-size="10.8" font-weight="normal" >1:500</text>
<text x="415" y="438.2" text-anchor="middle" font-size="10.8" font-weight="normal" >1:2000</text>
<text x="484.5" y="438.2" text-anchor="middle" font-size="10.8" font-weight="normal" >1:10000</text>
<text x="400.3" y="452.6" text-anchor="middle" font-size="11.3" font-weight="normal" >Plasma dilution</text>
</g>
</svg></body></html>
